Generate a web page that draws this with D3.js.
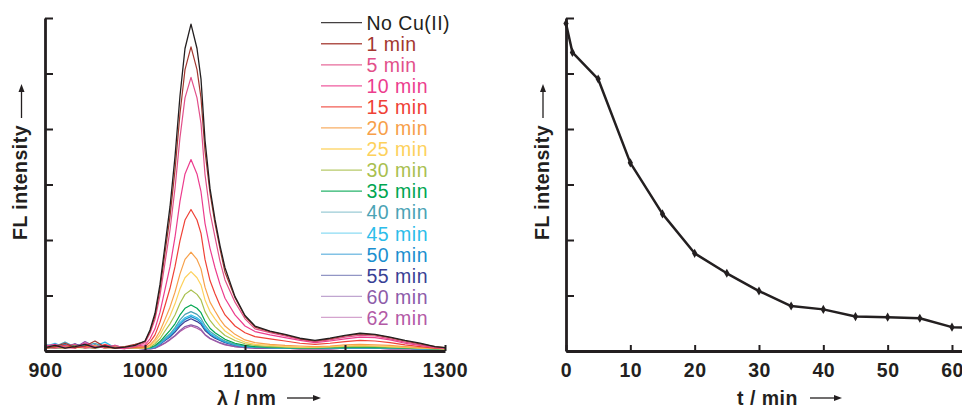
<!DOCTYPE html>
<html>
<head>
<meta charset="utf-8">
<script src="https://cdn.jsdelivr.net/npm/d3@7"></script>
<style>
  body { margin: 0; background: #fff; }
  svg { display: block; font-family: "Liberation Sans", Arial, sans-serif; }
</style>
</head>
<body>
<div id="chart"></div>
<script>
// wavelength grid (nm) shared by every spectrum
const wavelengths = [900, 910, 920, 930, 940, 950, 960, 970, 980, 990,
  1000, 1005, 1010, 1015, 1020, 1025, 1030, 1035, 1040, 1046, 1052, 1056, 1060, 1065, 1070, 1075, 1080,
  1090, 1100, 1110,
  1125, 1140, 1155, 1170, 1185, 1200, 1215, 1230, 1245, 1260, 1275, 1290, 1300];

// FL intensity (arbitrary units, axis 0..6)
const noCu = [0.06, 0.10, 0.05, 0.08, 0.12, 0.06, 0.09, 0.05, 0.07, 0.10,
  0.18, 0.38, 0.68, 1.20, 1.90, 2.60, 3.50, 4.60, 5.45, 5.89, 5.45, 4.90, 3.80, 2.93, 2.37, 1.90, 1.50,
  0.98, 0.64, 0.45,
  0.36, 0.30, 0.23, 0.19, 0.23, 0.28, 0.32, 0.30, 0.25, 0.19, 0.14, 0.08, 0.06];
const min1 = [0.05, 0.08, 0.14, 0.06, 0.09, 0.18, 0.07, 0.05, 0.08, 0.12,
  0.17, 0.35, 0.63, 1.12, 1.77, 2.42, 3.26, 4.28, 5.07, 5.48, 5.07, 4.56, 3.60, 2.85, 2.30, 1.84, 1.42,
  0.96, 0.62, 0.43,
  0.35, 0.29, 0.22, 0.18, 0.22, 0.27, 0.31, 0.29, 0.24, 0.18, 0.13, 0.08, 0.06];
const min5 = [0.07, 0.05, 0.09, 0.12, 0.05, 0.08, 0.06, 0.10, 0.05, 0.08,
  0.15, 0.32, 0.57, 1.00, 1.59, 2.18, 2.93, 3.85, 4.56, 4.93, 4.56, 4.10, 3.18, 2.50, 2.05, 1.62, 1.28,
  0.88, 0.58, 0.40,
  0.33, 0.27, 0.21, 0.17, 0.20, 0.25, 0.28, 0.27, 0.22, 0.16, 0.11, 0.07, 0.05];
const min10 = [0.09, 0.12, 0.06, 0.05, 0.15, 0.07, 0.10, 0.06, 0.04, 0.09,
  0.11, 0.22, 0.40, 0.70, 1.11, 1.52, 2.05, 2.70, 3.19, 3.45, 3.19, 2.87, 2.30, 1.85, 1.50, 1.20, 0.95,
  0.65, 0.45, 0.35,
  0.29, 0.24, 0.19, 0.15, 0.18, 0.22, 0.25, 0.24, 0.20, 0.14, 0.10, 0.06, 0.05];
const min15 = [0.05, 0.07, 0.10, 0.06, 0.08, 0.05, 0.12, 0.06, 0.05, 0.07,
  0.08, 0.16, 0.29, 0.52, 0.82, 1.13, 1.52, 1.99, 2.36, 2.55, 2.36, 2.12, 1.65, 1.27, 1.03, 0.82, 0.65,
  0.45, 0.33, 0.26,
  0.22, 0.18, 0.14, 0.12, 0.14, 0.17, 0.19, 0.18, 0.15, 0.11, 0.08, 0.05, 0.05];
const min20 = [0.08, 0.06, 0.05, 0.09, 0.06, 0.10, 0.05, 0.07, 0.06, 0.05,
  0.06, 0.11, 0.21, 0.36, 0.57, 0.79, 1.06, 1.39, 1.65, 1.78, 1.65, 1.48, 1.15, 0.88, 0.72, 0.57, 0.45,
  0.30, 0.20, 0.15,
  0.12, 0.10, 0.09, 0.08, 0.09, 0.11, 0.12, 0.11, 0.10, 0.08, 0.06, 0.05, 0.04];
const min25 = [0.06, 0.09, 0.07, 0.05, 0.08, 0.06, 0.07, 0.05, 0.08, 0.06,
  0.05, 0.09, 0.17, 0.29, 0.46, 0.63, 0.85, 1.12, 1.32, 1.43, 1.32, 1.19, 0.92, 0.71, 0.58, 0.46, 0.36,
  0.24, 0.16, 0.12,
  0.10, 0.08, 0.07, 0.07, 0.08, 0.09, 0.10, 0.09, 0.08, 0.07, 0.05, 0.05, 0.04];
const min30 = [0.05, 0.06, 0.09, 0.07, 0.05, 0.07, 0.06, 0.08, 0.05, 0.06,
  0.05, 0.07, 0.13, 0.22, 0.36, 0.49, 0.65, 0.86, 1.02, 1.10, 1.02, 0.92, 0.71, 0.55, 0.44, 0.36, 0.28,
  0.19, 0.13, 0.10,
  0.08, 0.07, 0.06, 0.06, 0.07, 0.08, 0.08, 0.08, 0.07, 0.06, 0.05, 0.04, 0.04];
const min35 = [0.07, 0.05, 0.06, 0.10, 0.07, 0.05, 0.08, 0.05, 0.06, 0.07,
  0.05, 0.06, 0.10, 0.17, 0.27, 0.37, 0.49, 0.65, 0.77, 0.83, 0.77, 0.69, 0.54, 0.41, 0.33, 0.27, 0.21,
  0.14, 0.10, 0.08,
  0.07, 0.06, 0.05, 0.05, 0.06, 0.06, 0.07, 0.06, 0.06, 0.05, 0.05, 0.04, 0.04];
const min40 = [0.12, 0.08, 0.16, 0.07, 0.10, 0.14, 0.06, 0.09, 0.05, 0.07,
  0.05, 0.06, 0.08, 0.15, 0.23, 0.31, 0.42, 0.56, 0.66, 0.71, 0.66, 0.59, 0.46, 0.35, 0.29, 0.23, 0.18,
  0.12, 0.09, 0.07,
  0.06, 0.05, 0.05, 0.05, 0.05, 0.05, 0.06, 0.05, 0.05, 0.05, 0.04, 0.04, 0.04];
const min45 = [0.08, 0.14, 0.06, 0.11, 0.07, 0.09, 0.16, 0.06, 0.08, 0.05,
  0.05, 0.05, 0.07, 0.13, 0.21, 0.29, 0.39, 0.51, 0.60, 0.65, 0.60, 0.54, 0.42, 0.32, 0.26, 0.21, 0.17,
  0.11, 0.08, 0.07,
  0.06, 0.05, 0.05, 0.05, 0.05, 0.05, 0.06, 0.05, 0.05, 0.05, 0.04, 0.04, 0.04];
const min50 = [0.06, 0.09, 0.12, 0.05, 0.13, 0.07, 0.10, 0.05, 0.07, 0.06,
  0.05, 0.05, 0.07, 0.13, 0.20, 0.27, 0.37, 0.48, 0.57, 0.62, 0.57, 0.51, 0.40, 0.31, 0.25, 0.20, 0.16,
  0.11, 0.08, 0.07,
  0.06, 0.05, 0.05, 0.05, 0.05, 0.05, 0.06, 0.05, 0.05, 0.05, 0.04, 0.04, 0.04];
const min55 = [0.10, 0.06, 0.08, 0.13, 0.06, 0.11, 0.05, 0.08, 0.06, 0.05,
  0.04, 0.05, 0.07, 0.12, 0.19, 0.25, 0.34, 0.45, 0.53, 0.58, 0.53, 0.48, 0.37, 0.29, 0.23, 0.19, 0.15,
  0.10, 0.08, 0.06,
  0.06, 0.05, 0.05, 0.05, 0.05, 0.05, 0.06, 0.05, 0.05, 0.05, 0.04, 0.04, 0.04];
const min60 = [0.07, 0.11, 0.09, 0.06, 0.17, 0.08, 0.06, 0.10, 0.05, 0.06,
  0.04, 0.04, 0.05, 0.10, 0.15, 0.21, 0.28, 0.37, 0.44, 0.47, 0.44, 0.39, 0.30, 0.23, 0.19, 0.15, 0.12,
  0.08, 0.06, 0.05,
  0.05, 0.05, 0.04, 0.04, 0.04, 0.05, 0.05, 0.05, 0.04, 0.04, 0.04, 0.04, 0.04];
const min62 = [0.09, 0.07, 0.05, 0.12, 0.08, 0.06, 0.09, 0.05, 0.07, 0.05,
  0.04, 0.04, 0.05, 0.09, 0.14, 0.20, 0.27, 0.35, 0.41, 0.45, 0.41, 0.37, 0.29, 0.22, 0.18, 0.14, 0.11,
  0.08, 0.06, 0.05,
  0.05, 0.05, 0.04, 0.04, 0.04, 0.05, 0.05, 0.05, 0.04, 0.04, 0.04, 0.04, 0.04];

const spectra = [noCu, min1, min5, min10, min15, min20, min25, min30, min35, min40, min45, min50, min55, min60, min62];
const legendLabels = ["No Cu(II)", "1 min", "5 min", "10 min", "15 min", "20 min", "25 min", "30 min",
  "35 min", "40 min", "45 min", "50 min", "55 min", "60 min", "62 min"];

// peak FL intensity against time (right panel)
const times = [0, 1, 5, 10, 15, 20, 25, 30, 35, 40, 45, 50, 55, 60, 62];
const intensity = [5.90, 5.38, 4.90, 3.39, 2.47, 1.76, 1.40, 1.08, 0.81, 0.75, 0.62, 0.61, 0.59, 0.43, 0.42];

const lambdaTicks = [900, 1000, 1100, 1200, 1300];
const timeTicks = [0, 10, 20, 30, 40, 50, 60];
const intensityTicks = [0, 1, 2, 3, 4, 5, 6];

const colors = ["#231f20", "#a3372f", "#e2508a", "#ec3d8e", "#ef4136", "#f7a04a", "#fdd15c", "#a9c04f",
  "#00a651", "#4ba3b5", "#2cbdea", "#1b8fcf", "#393f95", "#8d5ca9", "#b35aa6"];

const width = 962;
const height = 409;
const ink = "#231f20";
const fontSize = 19.5;

const svg = d3.select("#chart").append("svg")
  .attr("width", width)
  .attr("height", height);

// scales
const xL = d3.scaleLinear().domain([900, 1300]).range([45, 445]);
const y = d3.scaleLinear().domain([0, 6]).range([351, 18]);
const xR = d3.scaleLinear().domain([0, 65]).range([566, 566 + 65 * 6.433]);

function styleAxis(g) {
  g.attr("font-family", null).attr("font-size", null);
  g.select(".domain").attr("stroke", ink).attr("stroke-width", 2.8);
  g.selectAll(".tick line").attr("stroke", ink).attr("stroke-width", 2);
  g.selectAll(".tick text")
    .attr("fill", ink)
    .style("font-size", fontSize + "px")
    .style("font-weight", "bold")
    .style("letter-spacing", "0.5px");
}

function arrow(xa, ya, xb, yb) {
  const ang = Math.atan2(yb - ya, xb - xa);
  const len = 8, half = 3;
  const bx = xb - len * Math.cos(ang), by = yb - len * Math.sin(ang);
  svg.append("line")
    .attr("x1", xa).attr("y1", ya).attr("x2", bx).attr("y2", by)
    .attr("stroke", ink).attr("stroke-width", 1.3);
  svg.append("path")
    .attr("d", `M${xb},${yb}L${bx - half * Math.sin(ang)},${by + half * Math.cos(ang)}L${bx + half * Math.sin(ang)},${by - half * Math.cos(ang)}Z`)
    .attr("fill", ink);
}

// ---- left panel: spectra ----
const spectrumLine = d3.line()
  .x((d, i) => xL(wavelengths[i]))
  .y(d => y(d))
  .curve(d3.curveLinear);

svg.append("g")
  .selectAll("path")
  .data(spectra.map((s, i) => ({ s, i })).reverse())
  .enter()
  .append("path")
  .attr("d", d => spectrumLine(d.s))
  .attr("fill", "none")
  .attr("stroke", d => colors[d.i])
  .attr("stroke-width", d => d.i === 0 ? 1.3 : 1.2)
  .attr("stroke-linejoin", "round");

svg.append("g")
  .attr("transform", "translate(45,0)")
  .call(d3.axisLeft(y).tickValues(intensityTicks).tickSize(-8).tickSizeOuter(0).tickFormat(""))
  .call(styleAxis);

svg.append("g")
  .attr("transform", "translate(0,351)")
  .call(d3.axisBottom(xL).tickValues(lambdaTicks).tickSize(-6).tickSizeOuter(0).tickPadding(12).tickFormat(d3.format("d")))
  .call(styleAxis);

// legend
const legend = svg.append("g").attr("class", "legend");
const legendRow = legend.selectAll("g")
  .data(legendLabels)
  .enter()
  .append("g")
  .attr("transform", (d, i) => `translate(0,${22.7 + i * 21.05})`);

legendRow.append("line")
  .attr("x1", 321).attr("x2", 362)
  .attr("stroke", (d, i) => colors[i])
  .attr("stroke-width", 1.3)
  .attr("stroke-opacity", (d, i) => i > 8 ? 0.55 : 0.85);

legendRow.append("text")
  .attr("x", 366.5)
  .attr("y", 7.3)
  .attr("fill", (d, i) => colors[i])
  .style("font-size", fontSize + "px")
  .style("letter-spacing", "0.5px")
  .text(d => d);

// ---- right panel: intensity vs time ----
const right = svg.append("g");

right.append("path")
  .datum(times.map((t, i) => [t, intensity[i]]))
  .attr("d", d3.line().x(d => xR(d[0])).y(d => y(d[1])))
  .attr("fill", "none")
  .attr("stroke", ink)
  .attr("stroke-width", 2.5)
  .attr("stroke-linejoin", "round");

right.selectAll("path.pt")
  .data(times.map((t, i) => [t, intensity[i]]))
  .enter()
  .append("path")
  .attr("class", "pt")
  .attr("transform", d => `translate(${xR(d[0])},${y(d[1])})`)
  .attr("d", d3.symbol(d3.symbolDiamond).size(24))
  .attr("fill", ink);

svg.append("g")
  .attr("transform", "translate(566,0)")
  .call(d3.axisLeft(y).tickValues(intensityTicks).tickSize(-8).tickSizeOuter(0).tickFormat(""))
  .call(styleAxis);

svg.append("g")
  .attr("transform", "translate(0,351)")
  .call(d3.axisBottom(xR).tickValues(timeTicks).tickSize(-6).tickSizeOuter(0).tickPadding(12).tickFormat(d3.format("d")))
  .call(styleAxis);

// ---- axis titles ----
function yTitle(cx) {
  svg.append("text")
    .attr("transform", `translate(${cx + 6.5},182.5) rotate(-90)`)
    .attr("text-anchor", "middle")
    .attr("fill", ink)
    .style("font-size", fontSize + "px")
    .style("font-weight", "bold")
    .style("letter-spacing", "0.5px")
    .text("FL intensity");
  arrow(cx + 1, 118, cx + 1, 84);
}
yTitle(20.5);
yTitle(542);

svg.append("text")
  .attr("x", 217).attr("y", 405)
  .attr("fill", ink)
  .style("font-size", fontSize + "px")
  .style("font-weight", "bold")
  .style("letter-spacing", "0.5px")
  .text("λ / nm");
arrow(287, 398, 321, 398);

svg.append("text")
  .attr("x", 737).attr("y", 405)
  .attr("fill", ink)
  .style("font-size", fontSize + "px")
  .style("font-weight", "bold")
  .style("letter-spacing", "0.5px")
  .text("t / min");
arrow(810, 398, 842, 398);
</script>
</body>
</html>
